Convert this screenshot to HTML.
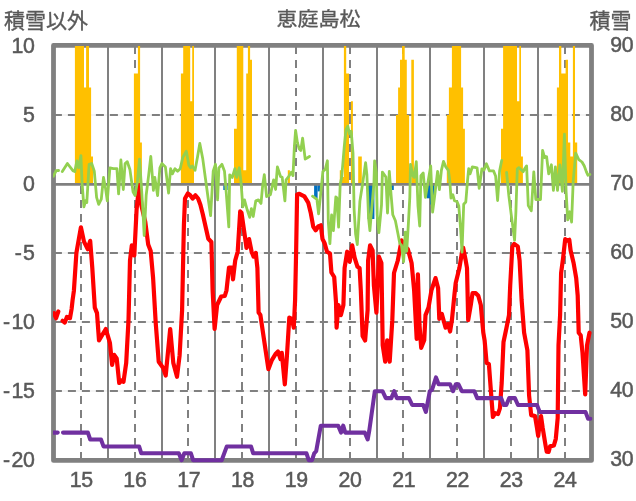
<!DOCTYPE html>
<html lang="ja"><head><meta charset="utf-8"><title>恵庭島松</title>
<style>html,body{margin:0;padding:0;background:#fff}svg{display:block;will-change:transform}</style></head>
<body>
<svg width="636" height="501" viewBox="0 0 636 501">
<rect width="636" height="501" fill="#fff"/>
<g stroke="#808080" stroke-width="2" fill="none">
<line x1="53.5" y1="115.0" x2="591.5" y2="115.0" stroke="#DDDDDD" stroke-width="0.6"/>
<line x1="53.9" y1="115.0" x2="591.5" y2="115.0" stroke-dasharray="8 6"/>
<line x1="53.5" y1="253.0" x2="591.5" y2="253.0" stroke="#DDDDDD" stroke-width="0.6"/>
<line x1="53.9" y1="253.0" x2="591.5" y2="253.0" stroke-dasharray="8 6"/>
<line x1="53.5" y1="322.0" x2="591.5" y2="322.0" stroke="#DDDDDD" stroke-width="0.6"/>
<line x1="53.9" y1="322.0" x2="591.5" y2="322.0" stroke-dasharray="8 6"/>
<line x1="53.5" y1="391.0" x2="591.5" y2="391.0" stroke="#DDDDDD" stroke-width="0.6"/>
<line x1="53.9" y1="391.0" x2="591.5" y2="391.0" stroke-dasharray="8 6"/>
<line x1="81.0" y1="460.0" x2="81.0" y2="45.4" stroke-dasharray="8 6"/>
<line x1="108.0" y1="45.4" x2="108.0" y2="460.4"/>
<line x1="135.0" y1="460.0" x2="135.0" y2="45.4" stroke-dasharray="8 6"/>
<line x1="162.0" y1="45.4" x2="162.0" y2="460.4"/>
<line x1="188.0" y1="460.0" x2="188.0" y2="45.4" stroke-dasharray="8 6"/>
<line x1="215.0" y1="45.4" x2="215.0" y2="460.4"/>
<line x1="242.0" y1="460.0" x2="242.0" y2="45.4" stroke-dasharray="8 6"/>
<line x1="269.0" y1="45.4" x2="269.0" y2="460.4"/>
<line x1="296.0" y1="460.0" x2="296.0" y2="45.4" stroke-dasharray="8 6"/>
<line x1="323.0" y1="45.4" x2="323.0" y2="460.4"/>
<line x1="350.0" y1="460.0" x2="350.0" y2="45.4" stroke-dasharray="8 6"/>
<line x1="377.0" y1="45.4" x2="377.0" y2="460.4"/>
<line x1="403.0" y1="460.0" x2="403.0" y2="45.4" stroke-dasharray="8 6"/>
<line x1="430.0" y1="45.4" x2="430.0" y2="460.4"/>
<line x1="457.0" y1="460.0" x2="457.0" y2="45.4" stroke-dasharray="8 6"/>
<line x1="484.0" y1="45.4" x2="484.0" y2="460.4"/>
<line x1="511.0" y1="460.0" x2="511.0" y2="45.4" stroke-dasharray="8 6"/>
<line x1="538.0" y1="45.4" x2="538.0" y2="460.4"/>
<line x1="565.0" y1="460.0" x2="565.0" y2="45.4" stroke-dasharray="8 6"/>
</g>
<rect x="53.5" y="45.4" width="538.0" height="415.0" fill="none" stroke="#808080" stroke-width="4.8" stroke-linejoin="round"/>
<path fill="#FFC000" d="M74.9,184.4L74.9,45.9L84.0,45.9L84.0,87.4L86.1,87.4L86.1,45.9L89.0,45.9L89.0,87.4L91.1,87.4L91.1,156.4L93.0,156.4L93.0,184.4ZM133.9,184.4L133.9,73.6L137.9,73.6L137.9,45.9L140.1,45.9L140.1,142.6L141.9,142.6L141.9,184.4ZM180.9,184.4L180.9,73.6L183.2,73.6L183.2,45.9L190.2,45.9L190.2,101.2L192.2,101.2L192.2,45.9L194.0,45.9L194.0,184.4ZM234.0,184.4L234.0,128.8L236.8,128.8L236.8,45.9L243.3,45.9L243.3,170.2L246.2,170.2L246.2,73.6L247.9,73.6L247.9,45.9L250.1,45.9L250.1,59.8L252.0,59.8L252.0,184.4ZM287.8,184.4L287.8,170.2L289.9,170.2L289.9,184.4ZM339.8,184.4L339.8,170.2L341.8,170.2L341.8,177.1L343.9,177.1L343.9,45.9L346.2,45.9L346.2,73.6L349.0,73.6L349.0,184.4ZM350.9,184.4L350.9,101.2L352.9,101.2L352.9,184.4ZM358.2,184.4L358.2,156.4L361.8,156.4L361.8,184.4ZM396.0,184.4L396.0,115.0L398.1,115.0L398.1,87.4L400.0,87.4L400.0,59.8L402.1,59.8L402.1,45.9L404.7,45.9L404.7,59.8L406.8,59.8L406.8,115.0L409.1,115.0L409.1,184.4ZM411.3,184.4L411.3,59.8L413.9,59.8L413.9,177.1L416.2,177.1L416.2,184.4ZM446.8,184.4L446.8,115.0L448.9,115.0L448.9,87.4L451.9,87.4L451.9,45.9L461.1,45.9L461.1,87.4L463.1,87.4L463.1,128.8L464.9,128.8L464.9,184.4ZM501.0,184.4L501.0,128.8L503.1,128.8L503.1,45.9L517.0,45.9L517.0,101.2L519.3,101.2L519.3,45.9L521.0,45.9L521.0,156.4L522.9,156.4L522.9,184.4ZM556.9,184.4L556.9,87.4L559.0,87.4L559.0,45.9L561.3,45.9L561.3,73.6L565.6,73.6L565.6,59.8L568.0,59.8L568.0,142.6L570.3,142.6L570.3,156.4L572.9,156.4L572.9,45.9L575.0,45.9L575.0,142.6L577.2,142.6L577.2,184.4Z"/>
<g fill="#0070C0">
<rect x="223.3" y="184.0" width="4.3" height="6.0"/>
<rect x="314.1" y="184.0" width="3.5" height="14.3"/>
<rect x="317.6" y="184.0" width="3.1" height="7.4"/>
<rect x="367.6" y="184.0" width="6.8" height="35.0"/>
<rect x="391.0" y="184.0" width="2.8" height="6.0"/>
<rect x="426.7" y="184.0" width="3.5" height="14.3"/>
<rect x="430.2" y="184.0" width="4.3" height="20.5"/>
<rect x="368.0" y="184.0" width="2.0" height="14.3"/>
</g>
<line x1="53.5" y1="184.4" x2="591.5" y2="184.4" stroke="#808080" stroke-width="2.9"/>
<clipPath id="c"><rect x="53" y="40" width="539.5" height="425"/></clipPath><g clip-path="url(#c)">
<g fill="none" stroke="#FF0000" stroke-width="4.2" stroke-linejoin="round" stroke-linecap="round">
<polyline points="54.0,313.2 56.1,318.2 58.3,311.5"/>
<polyline points="62.6,320.8 64.8,322.5 66.9,317.0 70.0,318.2 71.6,309.0 72.6,300.0 73.9,290.7 76.4,252.9 80.9,227.3 84.0,241.6 87.7,249.2 90.2,240.8 92.3,268.0 94.8,307.6 97.0,313.1 99.0,340.3 105.8,329.0 109.9,342.8 112.1,364.9 114.2,354.9 116.7,358.4 119.2,383.0 121.7,380.5 123.5,381.8 126.2,362.9 128.5,320.2 130.0,260.5 131.8,245.4 134.3,255.4 136.6,209.5 139.2,185.0 141.5,206.0 145.3,222.0 148.2,244.5 150.7,251.0 153.1,278.0 155.7,322.7 158.7,361.7 163.2,368.0 165.7,375.5 170.2,329.0 173.3,362.9 177.0,376.8 179.6,355.4 182.1,310.1 183.3,252.9 183.9,225.3 185.0,198.5 187.8,193.5 190.2,195.3 192.6,198.5 195.4,195.3 198.1,198.5 200.4,204.8 202.8,214.3 206.0,228.5 208.3,238.7 211.4,242.0 212.6,290.0 214.6,329.0 217.1,305.0 221.2,296.5 224.8,296.0 226.5,290.3 229.0,267.6 232.0,267.6 233.0,279.3 235.2,260.5 237.7,251.7 240.2,211.4 241.5,212.7 243.3,225.3 245.3,239.1 246.5,247.9 249.1,239.1 251.6,251.7 253.6,256.7 255.8,252.9 257.4,268.0 258.6,312.6 260.4,315.1 268.4,369.2 271.7,360.4 275.5,354.1 278.0,351.6 280.5,359.2 281.8,352.9 284.8,384.3 286.8,357.9 289.3,317.6 291.8,318.9 293.8,327.7 295.1,300.0 296.1,252.9 297.1,194.6 299.4,193.8 304.4,196.3 308.2,202.6 310.7,212.7 313.2,226.5 315.7,230.3 318.2,226.5 320.8,225.3 322.5,239.1 324.5,242.9 327.0,251.7 330.0,253.6 331.4,272.5 334.2,277.0 336.0,302.0 336.6,327.7 338.4,305.0 340.9,315.1 343.4,305.0 344.6,268.0 347.2,251.7 349.7,261.7 352.2,245.4 354.7,258.0 357.5,266.8 359.6,268.0 360.8,290.0 362.6,336.0 365.1,340.5 367.6,310.1 368.1,260.5 370.1,245.4 372.6,250.4 373.9,285.6 376.4,312.6 378.9,256.7 381.4,263.0 382.7,345.3 385.2,361.7 387.2,340.3 389.7,361.7 392.3,320.2 394.0,273.0 397.8,260.5 401.6,240.3 404.1,245.4 407.9,249.2 411.6,263.0 414.1,290.0 416.7,339.0 417.9,274.3 419.5,325.0 421.2,347.8 424.2,340.3 425.5,315.1 428.5,307.6 431.5,290.0 435.5,278.1 438.1,288.1 439.3,318.9 441.8,313.9 445.6,327.7 448.1,323.9 450.1,331.5 451.9,320.2 454.4,295.0 455.7,283.1 459.4,268.0 461.9,252.9 463.2,247.9 465.7,260.5 467.0,268.0 468.2,320.2 470.8,305.0 472.5,293.2 475.8,293.2 478.3,295.7 480.8,305.0 483.3,332.7 484.6,340.3 486.6,362.9 488.9,364.2 491.2,395.0 492.9,417.0 495.2,413.2 498.0,414.1 499.9,408.4 501.7,383.0 503.5,342.0 506.5,327.7 509.0,315.1 510.2,285.6 512.3,247.0 514.2,243.9 517.8,246.4 519.6,260.5 521.6,300.0 524.1,332.7 527.4,350.3 529.1,395.6 531.2,415.1 535.0,416.0 536.9,427.4 538.2,435.9 539.7,423.6 541.0,416.0 542.6,427.4 545.4,444.5 546.7,451.7 548.6,452.0 550.1,446.4 553.9,445.4 555.8,438.8 557.7,417.9 558.5,345.3 560.1,315.1 561.1,273.0 563.1,258.0 565.2,239.2 567.3,240.7 569.3,239.8 570.6,250.4 573.6,263.0 576.2,278.1 577.7,295.7 578.7,332.7 580.7,335.2 582.5,352.9 585.2,394.4 587.0,345.3 589.5,332.7"/>
</g>
<g fill="none" stroke="#92D050" stroke-width="2.8" stroke-linejoin="round" stroke-linecap="round">
<polyline points="53.5,176.2 56.1,170.7 58.6,170.5"/>
<polyline points="62.3,171.6 67.4,163.5 72.9,170.7 74.8,171.6 76.9,160.8 78.7,167.8 80.9,155.6 82.1,183.4 83.9,206.9 85.6,200.8 86.8,202.6 89.1,164.3 91.7,163.5 94.3,171.3 96.6,197.3 98.7,204.3 101.3,199.1 103.5,177.4 105.6,188.7 107.3,200.8 109.9,167.8 113.4,168.7 116.9,168.7 118.6,193.9 120.9,160.0 123.3,189.5 125.1,163.5 127.3,161.7 129.9,169.5 133.1,192.1 135.1,195.6 137.4,181.7 139.5,159.1 141.2,183.4 142.8,209.5 144.2,235.5 146.2,195.0 148.7,174.8 150.8,156.5 152.5,178.2 153.4,190.4 154.8,177.4 157.6,195.6 159.9,167.8 161.9,163.5 165.4,166.9 168.6,193.0 170.6,168.7 172.4,173.9 175.0,168.7 177.6,171.3 180.2,168.7 182.8,157.4 186.3,151.3 188.9,165.2 190.6,167.8 192.4,166.1 195.0,170.4 197.6,156.5 199.8,143.5 202.8,159.1 205.4,178.2 208.0,197.3 210.6,215.6 213.2,171.3 215.5,164.3 217.6,199.9 218.9,167.8 221.9,164.3 224.5,171.3 226.2,192.1 228.8,226.9 229.7,174.8 232.3,177.4 234.9,168.7 236.7,177.4 239.3,167.8 241.0,181.7 242.8,206.9 244.5,199.9 247.1,209.5 249.7,217.3 251.4,208.6 253.2,216.5 255.8,200.8 258.4,199.9 261.0,203.4 262.7,185.2 264.3,174.7 266.6,196.5 270.4,194.7 273.6,179.9 275.6,189.5 277.4,166.9 280.5,176.5 282.2,177.3 284.9,200.8 286.1,179.9 288.7,176.5 291.3,172.1 293.0,175.6 294.4,146.1 295.6,130.4 297.4,142.6 299.1,148.7 300.8,150.4 302.6,138.2 305.2,159.1 309.5,156.5"/>
<polyline points="312.5,196.2 316.9,199.4 318.6,213.8 320.4,196.9 322.9,171.3 325.2,169.5 327.4,160.8 328.3,222.0 329.9,243.6 331.6,215.0 333.4,230.6 335.8,197.0 336.8,197.6 338.6,227.1 340.2,184.3 341.7,177.3 344.3,146.1 346.0,129.6 347.8,126.1 349.5,133.9 351.2,131.3 353.0,153.0 354.1,209.4 355.6,234.1 357.3,244.5 359.9,201.1 362.6,183.7 365.6,162.6 366.9,175.0 368.6,218.4 369.9,230.6 371.6,209.8 373.9,183.7 374.6,160.8 376.3,172.1 377.2,214.8 378.9,232.5 381.5,205.0 382.4,172.1 385.9,177.0 387.5,213.0 389.3,171.3 391.1,195.0 392.8,214.8 395.4,220.8 398.0,233.9 399.8,243.4 401.5,245.2 403.6,261.7 405.3,232.1 406.7,251.2 408.4,223.4 409.8,197.4 410.5,164.3 412.8,175.6 414.2,177.3 416.3,161.7 418.0,206.1 419.7,226.0 420.9,175.6 423.2,173.0 425.4,197.4 427.5,185.0 430.7,166.0 432.6,212.1 434.5,197.4 437.6,171.3 439.4,189.5 441.4,170.4 443.5,161.4 445.8,166.9 448.4,170.4 449.8,180.8 451.0,198.2 452.8,194.7 454.5,200.8 457.1,201.7 458.8,206.1 460.6,228.7 462.0,252.1 463.7,204.3 465.8,202.0 467.5,180.8 468.7,168.7 470.1,173.9 472.4,166.8 477.1,167.8 479.2,188.3 481.9,168.8 484.0,170.0 486.4,163.7 489.4,170.9 493.5,170.9 495.6,176.0 497.6,200.5 499.6,170.9 501.7,160.4"/>
<polyline points="506.6,172.4 508.8,195.4 511.9,219.9 514.6,240.2 515.9,211.8 517.3,168.8 518.8,167.6 520.7,169.2 523.2,171.7 524.8,168.5 526.6,165.9 528.3,205.6 531.3,210.7 533.8,171.9 535.8,199.5 540.5,199.5 542.6,150.4 544.6,157.6 546.6,156.6 548.7,173.9 551.4,164.8 553.4,190.3 555.4,166.8 557.5,190.3 559.9,164.8 562.4,191.3 564.4,134.1 566.1,191.3 567.7,219.9 569.8,211.8 571.6,222.0 573.2,181.1 575.7,153.2 578.8,159.6 582.0,162.0 584.3,166.0 586.3,171.6 587.9,175.2 589.9,174.4"/>
</g>
<g fill="none" stroke="#7030A0" stroke-width="4.05" stroke-linejoin="round" stroke-linecap="round">
<polyline points="52.0,432.6 57.7,432.6"/>
<polyline points="63.0,432.6 87.9,432.6 90.2,439.5 101.0,439.5 103.5,446.4 139.1,446.4 141.3,453.3 178.8,453.3 181.6,460.2 184.3,453.3 190.9,453.3 193.1,460.2 221.7,460.2 226.8,446.4 251.0,446.4 253.2,453.3 306.5,453.3 308.7,460.2 312.0,460.2 314.2,453.3 316.2,451.2 320.8,425.7 338.2,425.7 341.0,432.6 343.2,425.7 345.3,432.6 364.8,432.6 367.7,439.5 369.2,431.2 374.8,391.2 382.5,391.2 385.8,398.1 391.3,398.1 394.2,391.2 396.8,398.1 408.9,398.1 412.2,405.0 423.2,405.0 425.9,411.9 429.8,391.2 432.0,389.8 436.0,377.4 438.6,384.3 450.1,384.3 453.0,391.2 455.8,384.3 458.5,384.3 461.8,391.2 474.3,391.2 477.2,398.1 501.2,398.1 503.7,405.0 506.3,405.0 509.2,398.1 514.9,398.1 518.0,405.0 537.0,405.0 539.7,411.9 585.5,411.9 588.1,418.8 590.4,418.8"/>
</g>
</g>
<g fill="#595959" stroke="#595959" stroke-width="0.5" letter-spacing="-0.3" font-family="'Liberation Sans', 'Noto Sans CJK JP', sans-serif" font-size="21.3">
<text x="34.5" y="52.7" text-anchor="end">10</text>
<text x="34.5" y="121.7" text-anchor="end">5</text>
<text x="34.5" y="190.7" text-anchor="end">0</text>
<text x="34.5" y="259.7" text-anchor="end"><tspan letter-spacing="1.2">-</tspan>5</text>
<text x="34.5" y="328.7" text-anchor="end"><tspan letter-spacing="1.2">-</tspan>10</text>
<text x="34.5" y="397.7" text-anchor="end"><tspan letter-spacing="1.2">-</tspan>15</text>
<text x="34.5" y="466.7" text-anchor="end"><tspan letter-spacing="1.2">-</tspan>20</text>
<text x="610.3" y="52.3">90</text>
<text x="610.3" y="121.3">80</text>
<text x="610.3" y="190.3">70</text>
<text x="610.3" y="259.3">60</text>
<text x="610.3" y="328.3">50</text>
<text x="610.3" y="397.3">40</text>
<text x="610.3" y="466.3">30</text>
<text x="81.2" y="487.4" text-anchor="middle">15</text>
<text x="134.9" y="487.4" text-anchor="middle">16</text>
<text x="188.7" y="487.4" text-anchor="middle">17</text>
<text x="242.5" y="487.4" text-anchor="middle">18</text>
<text x="296.2" y="487.4" text-anchor="middle">19</text>
<text x="350.0" y="487.4" text-anchor="middle">20</text>
<text x="403.7" y="487.4" text-anchor="middle">21</text>
<text x="457.5" y="487.4" text-anchor="middle">22</text>
<text x="511.3" y="487.4" text-anchor="middle">23</text>
<text x="565.0" y="487.4" text-anchor="middle">24</text>
</g>
<g fill="#595959" stroke="#595959" stroke-width="0.35" font-family="'Liberation Sans', 'Noto Sans CJK JP', sans-serif" font-size="21">
<text x="4" y="27.9">積雪以外</text>
<text x="318.5" y="27.6" text-anchor="middle" transform="scale(1,0.94)">恵庭島松</text>
<text x="589.5" y="27.9">積雪</text>
</g>
</svg>
</body></html>
